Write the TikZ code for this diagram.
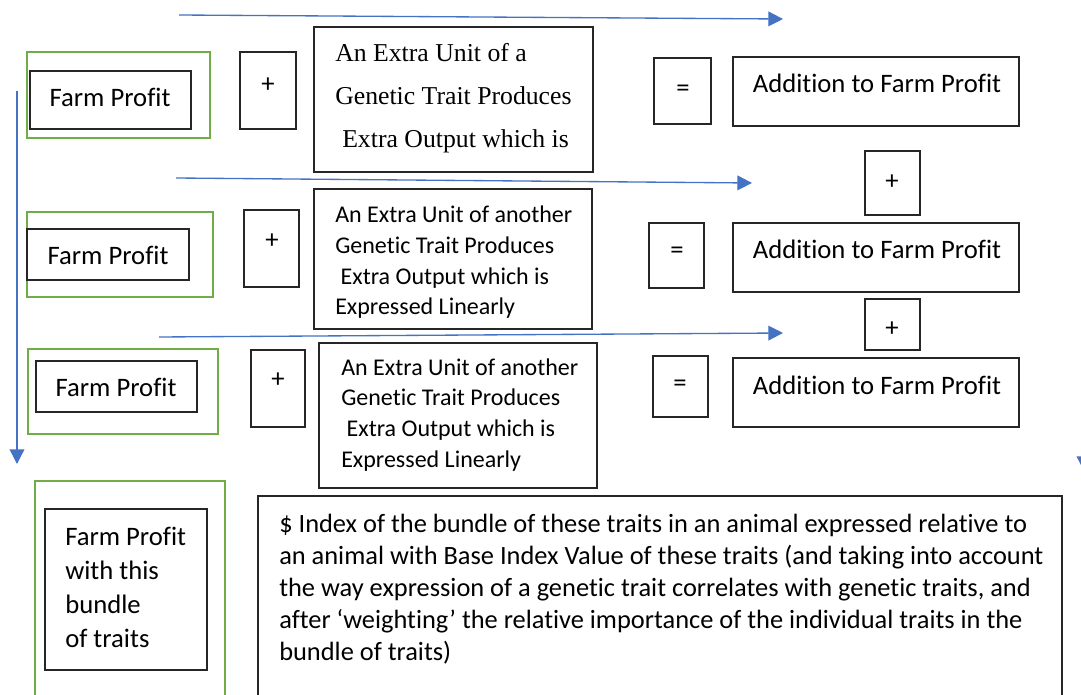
\documentclass[tikz,border=0pt]{standalone}
\usepackage{fontspec}
\setmainfont{Carlito}[Ligatures=NoCommon]
\newfontfamily\cambriafont{Liberation Serif}
\usetikzlibrary{arrows.meta,fit}
\definecolor{frame}{HTML}{70AD47}
\definecolor{flowblue}{HTML}{4472C4}
\tikzset{
  box/.style={draw=black!85, line width=0.9pt, inner sep=0pt, fit={#1}},
  greenbox/.style={draw=frame, line width=2.1pt, inner sep=0pt, fit={#1}},
  flow/.style={draw=flowblue, line width=1pt, -{Triangle[length=11pt,width=11pt]}},
  big/.style={inner sep=0pt, font=\fontsize{20pt}{25.5pt}\selectfont},
  body/.style={inner sep=0pt, anchor=base west, font=\fontsize{18pt}{23pt}\selectfont},
  serifbody/.style={inner sep=0pt, anchor=base west, font=\cambriafont\fontsize{19.3pt}{32.25pt}\selectfont},
  index/.style={inner sep=0pt, anchor=base west, font=\fontsize{19.8pt}{24pt}\selectfont},
}
\newcommand\textlines[1]{\parbox[t]{30cm}{\raggedright #1}}
\begin{document}
\begin{tikzpicture}[x=0.75pt,y=-0.75pt]
\useasboundingbox (0,0) rectangle (1081,695);
\fill[white] (0,0) rectangle (1081,695);

% row 1
\node[greenbox={(27,52)(210,138)}] (g1) {};
\node[box={(30,71)(191,129)}] (fp1) {};
\node[box={(240,52)(296,129)}] (p1) {};
\node[box={(314,27)(593,172)}] (s1) {};
\node[box={(654,58)(711,124)}] (e1) {};
\node[box={(733,57)(1019,126)}] (a1) {};
\node[box={(865,151)(920,215)}] (p2) {};
% row 2
\node[greenbox={(27,212)(213,297)}] (g2) {};
\node[box={(27,229)(189,280)}] (fp2) {};
\node[box={(244,210)(299,287)}] (p3) {};
\node[box={(314,189)(592,329)}] (s2) {};
\node[box={(649,223)(704,288)}] (e2) {};
\node[box={(733,223)(1019,292)}] (a2) {};
\node[box={(865,299)(920,350)}] (p4) {};
% row 3
\node[greenbox={(28,349)(218,434)}] (g3) {};
\node[box={(36,361)(197,412)}] (fp3) {};
\node[box={(251,350)(305,427)}] (p5) {};
\node[box={(319,343)(597,488)}] (s3) {};
\node[box={(653,356)(708,417)}] (e3) {};
\node[box={(733,358)(1019,427)}] (a3) {};
% bottom
\node[greenbox={(35,481)(225,705)}] (g4) {};
\node[box={(45,509)(207,670)}] (fp4) {};
\node[box={(258,496)(1062,705)}] (ix) {};

% texts
\node[big, anchor=base] (fp1t) at (110,107) {Farm Profit};
\node[big, anchor=base] (fp2t) at (108,265) {Farm Profit};
\node[big, anchor=base] (fp3t) at (116,396) {Farm Profit};
\node[big, anchor=base] (a1t) at (877,93) {Addition to Farm Profit};
\node[big, anchor=base] (a2t) at (877,259) {Addition to Farm Profit};
\node[big, anchor=base] (a3t) at (877,394) {Addition to Farm Profit};
\node[big] (p1t) at (268,85) {+};
\node[big] (p3t) at (272,241) {+};
\node[big] (p5t) at (278,380) {+};
\node[big] (p2t) at (892,182) {+};
\node[big] (p4t) at (892,329) {+};
\node[big] (e1t) at (683,91) {=};
\node[big] (e2t) at (677,253) {=};
\node[big] (e3t) at (680,386) {=};

\node[serifbody] (s1t) at (335,62) {\textlines{An Extra Unit of a\\Genetic Trait Produces\\\hspace*{5.25pt}Extra Output which is}};
\node[body] (s2t) at (335,223) {\textlines{An Extra Unit of another\\Genetic Trait Produces\\\hspace*{4pt}Extra Output which is\\Expressed Linearly}};
\node[body] (s3t) at (341,375) {\textlines{An Extra Unit of another\\Genetic Trait Produces\\\hspace*{4pt}Extra Output which is\\Expressed Linearly}};
\node[big, anchor=base west] (fp4t) at (65,545) {\textlines{Farm Profit\\with this\\bundle\\of traits}};
\node[index] (ixt) at (279,532) {\textlines{\$ Index of the bundle of these traits in an animal expressed relative to\\an animal with Base Index Value of these traits (and taking into account\\the way expression of a genetic trait correlates with genetic traits, and\\after ‘weighting’ the relative importance of the individual traits in the\\bundle of traits)}};

% arrows
\coordinate (r1s) at (179,15);
\coordinate (r1e) at (783,19);
\coordinate (r2s) at (176,178);
\coordinate (r2e) at (752,183);
\coordinate (r3s) at (159,337);
\coordinate (r3e) at (783,333);
\coordinate (vs) at (17,91);
\coordinate (ve) at (17,464);
\coordinate (rs) at (1084,380);
\coordinate (re) at (1084,471);
\draw[flow] (r1s) -- (r1e);
\draw[flow] (r2s) -- (r2e);
\draw[flow] (r3s) -- (r3e);
\draw[flow] (vs) -- (ve);
\draw[flow] (rs) -- (re);
\end{tikzpicture}
\end{document}
